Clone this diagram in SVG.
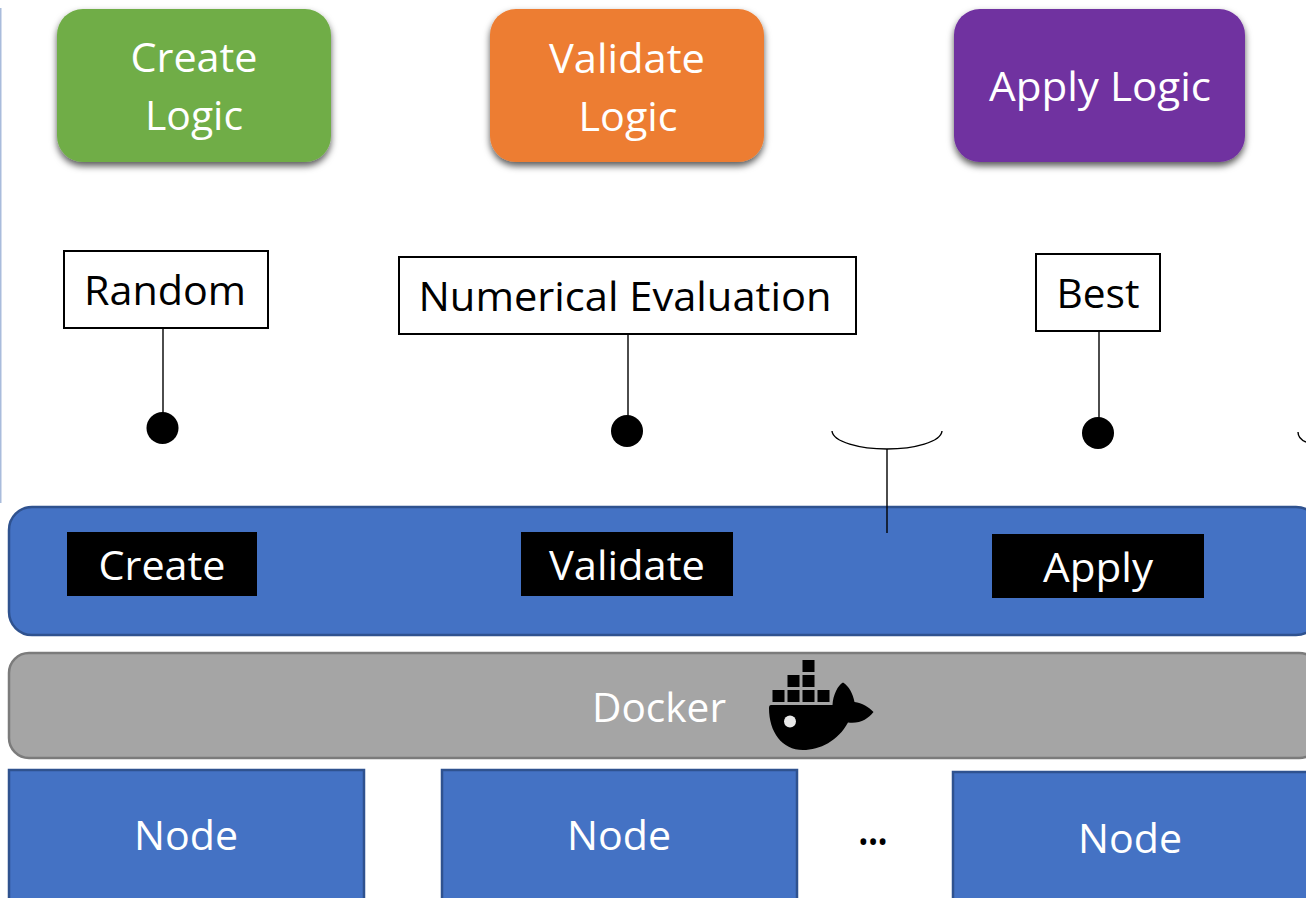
<svg xmlns="http://www.w3.org/2000/svg" width="1306" height="898" viewBox="0 0 1306 898">
<style>
text{font-family:"Open Sans","Noto Sans","Liberation Sans",sans-serif;text-anchor:middle}
.w{fill:#fff}.k{fill:#000}
.f44{font-size:41px}
.box{fill:#fff;stroke:#000;stroke-width:2}
.blue{fill:#4472c4;stroke:#2f528f;stroke-width:2.5}
.lab{fill:#000}
.line{stroke:#000;stroke-width:1.4;fill:none}
</style>
<defs>
<filter id="sh" x="-10%" y="-10%" width="120%" height="125%"><feDropShadow dx="0" dy="4" stdDeviation="3.500" flood-color="#000" flood-opacity="0.65"/></filter>
</defs>
<rect width="1306" height="898" fill="#fff"/>
<rect id="edge" x="0" y="8" width="1.500" height="495" fill="#a9bcdc"/>
<g id="create-logic"><rect x="57" y="9" width="274" height="153" rx="26" fill="#70ad47" filter="url(#sh)"/>
<text class="w f44" x="194" y="72" textLength="127" lengthAdjust="spacingAndGlyphs">Create</text><text class="w f44" x="194" y="130" textLength="98" lengthAdjust="spacingAndGlyphs">Logic</text></g>
<g id="validate-logic"><rect x="490" y="9" width="274" height="153" rx="26" fill="#ed7d31" filter="url(#sh)"/>
<text class="w f44" x="627" y="73" textLength="156" lengthAdjust="spacingAndGlyphs">Validate</text><text class="w f44" x="628" y="131" textLength="99" lengthAdjust="spacingAndGlyphs">Logic</text></g>
<g id="apply-logic"><rect x="954" y="9" width="291" height="153" rx="26" fill="#7030a0" filter="url(#sh)"/>
<text class="w f44" x="1100" y="101" textLength="222" lengthAdjust="spacingAndGlyphs">Apply Logic</text></g>
<g id="random"><rect class="box" x="64" y="251" width="204" height="77"/><text class="lab f44" x="165" y="305" textLength="162" lengthAdjust="spacingAndGlyphs">Random</text></g>
<g id="numerical-evaluation"><rect class="box" x="399" y="257" width="457" height="77"/><text class="lab f44" x="625" y="311" textLength="413" lengthAdjust="spacingAndGlyphs">Numerical Evaluation</text></g>
<g id="best"><rect class="box" x="1036" y="254" width="124" height="77"/><text class="lab f44" x="1098" y="308" textLength="83" lengthAdjust="spacingAndGlyphs">Best</text></g>
<g id="dots"><circle cx="162.500" cy="428" r="16" class="k"/><circle cx="627" cy="431" r="16" class="k"/><circle cx="1098" cy="433" r="16" class="k"/></g>
<g id="platform"><rect class="blue" x="9" y="507" width="1310" height="128" rx="23"/>
<g id="create"><rect x="67" y="532" width="190" height="64" class="k"/><text class="w f44" x="162" y="580" textLength="127" lengthAdjust="spacingAndGlyphs">Create</text></g>
<g id="validate"><rect x="521" y="532" width="212" height="64" class="k"/><text class="w f44" x="627" y="580" textLength="156" lengthAdjust="spacingAndGlyphs">Validate</text></g>
<g id="apply"><rect x="992" y="534" width="212" height="64" class="k"/><text class="w f44" x="1098" y="582" textLength="110" lengthAdjust="spacingAndGlyphs">Apply</text></g>
</g>
<g id="connectors">
<line class="line" x1="163" y1="328" x2="163" y2="420"/>
<line class="line" x1="628" y1="333" x2="628" y2="423"/>
<line class="line" x1="1099" y1="331" x2="1099" y2="425"/>
<path class="line" d="M832 431C833 442 860 449 887 449C914 449 941 442 942 431"/>
<line class="line" x1="887" y1="449" x2="887" y2="533"/>
<path class="line" d="M1298 432C1298 436 1301 440 1306 442"/>
</g>
<g id="docker"><rect x="9" y="653" width="1310" height="105" rx="20" fill="#a5a5a5" stroke="#7b7b7b" stroke-width="2.500"/>
<text class="w f44" x="659" y="722" textLength="134" lengthAdjust="spacingAndGlyphs">Docker</text>
<g id="whale" class="k">
<rect x="802.500" y="660" width="12" height="12"/><rect x="787.500" y="675" width="12" height="12"/><rect x="802.500" y="675" width="12" height="12"/>
<rect x="772.500" y="690" width="12" height="12"/><rect x="787.500" y="690" width="12" height="12"/><rect x="802.500" y="690" width="12" height="12"/><rect x="817.500" y="690" width="12" height="12"/>
<path d="M771 705L832.500 705C833 695 838 685 843 682.500C849 686 853 694 854.500 702C862 703 869 707 873.500 712C868 719 860 724 848 722.500C838 741 820 750 803 750C782 750 769 732 769 708Q769 705 771 705Z"/>
<circle cx="790" cy="721.500" r="6" fill="#e8e8e8"/>
</g></g>
<g id="node-1"><rect class="blue" x="9" y="770" width="355" height="140"/><text class="w f44" x="186" y="850" textLength="104" lengthAdjust="spacingAndGlyphs">Node</text></g>
<g id="node-2"><rect class="blue" x="442" y="770" width="355" height="140"/><text class="w f44" x="619" y="850" textLength="104" lengthAdjust="spacingAndGlyphs">Node</text></g>
<text class="k f44" x="873" y="845" font-weight="700" textLength="29" lengthAdjust="spacingAndGlyphs">...</text>
<g id="node-3"><rect class="blue" x="953" y="772" width="365" height="140"/><text class="w f44" x="1130" y="853" textLength="104" lengthAdjust="spacingAndGlyphs">Node</text></g>
</svg>
